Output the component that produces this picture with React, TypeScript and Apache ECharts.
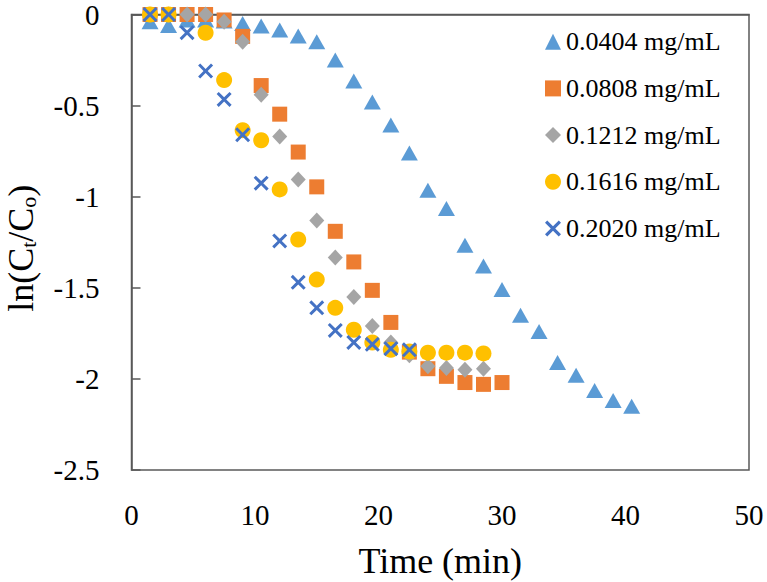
import React, { useEffect, useRef } from "react";
import * as echarts from "echarts";

const TIME = [
  1.5, 3, 4.5, 6, 7.5, 9, 10.5, 12, 13.5, 15, 16.5, 18, 19.5, 21, 22.5, 24,
  25.5, 27, 28.5, 30, 31.5, 33, 34.5, 36, 37.5, 39, 40.5,
];

const SERIES_NAMES = [
  "0.0404 mg/mL",
  "0.0808 mg/mL",
  "0.1212 mg/mL",
  "0.1616 mg/mL",
  "0.2020 mg/mL",
];

const V_0404 = [
  -0.04, -0.06, -0.03, -0.03, -0.035, -0.05, -0.063, -0.085, -0.118, -0.15,
  -0.25, -0.365, -0.48, -0.607, -0.76, -0.964, -1.065, -1.267, -1.38, -1.51,
  -1.65, -1.74, -1.91, -1.98, -2.063, -2.118, -2.15,
];
const V_0808 = [
  0, 0, 0, 0, -0.03, -0.12, -0.39, -0.547, -0.755, -0.946, -1.19, -1.358,
  -1.514, -1.69, -1.853, -1.944, -1.986, -2.02, -2.03, -2.02,
];
const V_1212 = [
  0, 0, 0, 0, -0.04, -0.15, -0.44, -0.67, -0.905, -1.13, -1.334, -1.55, -1.71,
  -1.8, -1.87, -1.93, -1.94, -1.95, -1.944,
];
const V_1616 = [
  0, 0, null, -0.1, -0.36, -0.635, -0.69, -0.96, -1.235, -1.455, -1.61, -1.73,
  -1.8, -1.84, -1.85, -1.856, -1.856, -1.856, -1.86,
];
const V_2020 = [
  0, 0, -0.1, -0.31, -0.466, -0.66, -0.926, -1.243, -1.47, -1.61, -1.734, -1.8,
  -1.81, -1.834, -1.84,
];

const X_MIN = 0;
const X_MAX = 50;
const X_STEP = 10;
const Y_MIN = -2.5;
const Y_MAX = 0;
const Y_STEP = 0.5;

const FONT = "'Liberation Serif', 'Times New Roman', serif";
const AXIS_COLOR = "#595959";
const CROSS =
  "path://M0,1.4L1.4,0L5,3.6L8.6,0L10,1.4L6.4,5L10,8.6L8.6,10L5,6.4L1.4,10L0,8.6L3.6,5Z";

function toPairs(values: (number | null)[]) {
  const out: number[][] = [];
  values.forEach((v, i) => {
    if (v !== null) out.push([TIME[i], v]);
  });
  return out;
}

export default function App() {
  const ref = useRef<HTMLDivElement>(null);

  useEffect(() => {
    if (!ref.current) return;
    const chart = echarts.init(ref.current, null, { renderer: "svg" });

    const seriesDefs = [
      { values: V_0404, color: "#5B9BD5", symbol: "triangle", size: [17, 15] },
      { values: V_0808, color: "#ED7D31", symbol: "rect", size: 15 },
      { values: V_1212, color: "#A5A5A5", symbol: "diamond", size: [15, 16] },
      { values: V_1616, color: "#FFC000", symbol: "circle", size: 16 },
      { values: V_2020, color: "#4472C4", symbol: CROSS, size: 15 },
    ];

    chart.setOption({
      animation: false,
      backgroundColor: "#ffffff",
      grid: {
        left: 131.5,
        right: 18,
        top: 14.5,
        bottom: 112,
        show: true,
        borderColor: AXIS_COLOR,
        borderWidth: 1.5,
        containLabel: false,
        outerBoundsMode: "none",
      },
      legend: {
        orient: "vertical",
        left: 545,
        top: 28.7,
        padding: 0,
        itemWidth: 16,
        itemHeight: 16,
        itemGap: 20.7,
        textStyle: {
          fontFamily: FONT,
          fontSize: 26,
          lineHeight: 26,
          color: "#000",
        },
        data: SERIES_NAMES,
      },
      xAxis: {
        type: "value",
        min: X_MIN,
        max: X_MAX,
        interval: X_STEP,
        name: "Time (min)",
        nameLocation: "middle",
        nameGap: 73,
        nameMoveOverlap: false,
        nameTextStyle: { fontFamily: FONT, fontSize: 36, color: "#000" },
        axisLine: { show: true, lineStyle: { color: AXIS_COLOR, width: 1.5 } },
        axisTick: { show: false },
        splitLine: { show: false },
        axisLabel: {
          fontFamily: FONT,
          fontSize: 29,
          color: "#000",
          margin: 30,
        },
      },
      yAxis: {
        type: "value",
        min: Y_MIN,
        max: Y_MAX,
        interval: Y_STEP,
        name: "{a|ln(C}{s|t}{a|/C}{s|o}{a|)}",
        nameLocation: "middle",
        nameRotate: 90,
        nameGap: 91,
        nameMoveOverlap: false,
        nameTextStyle: {
          fontFamily: FONT,
          fontSize: 36,
          color: "#000",
          padding: [0, 12, 0, 0],
          rich: {
            a: { fontFamily: FONT, fontSize: 36, lineHeight: 40, color: "#000" },
            s: {
              fontFamily: FONT,
              fontSize: 22,
              color: "#000",
              padding: [16, 0, 0, 0],
            },
          },
        },
        axisLine: { show: true, lineStyle: { color: AXIS_COLOR, width: 1.5 } },
        axisTick: {
          show: true,
          inside: true,
          length: 9,
          lineStyle: { color: AXIS_COLOR, width: 1.5 },
        },
        splitLine: { show: false },
        axisLabel: {
          fontFamily: FONT,
          fontSize: 29,
          color: "#000",
          margin: 32,
        },
      },
      series: seriesDefs.map((d, i) => ({
        type: "scatter",
        name: SERIES_NAMES[i],
        data: toPairs(d.values),
        symbol: d.symbol,
        symbolSize: d.size,
        itemStyle: { color: d.color, opacity: 1 },
        emphasis: { disabled: true },
        z: 2 + i,
      })),
    });

    return () => chart.dispose();
  }, []);

  return (
    <div
      ref={ref}
      style={{ position: "absolute", left: 0, top: 0, width: 767, height: 582 }}
    />
  );
}
